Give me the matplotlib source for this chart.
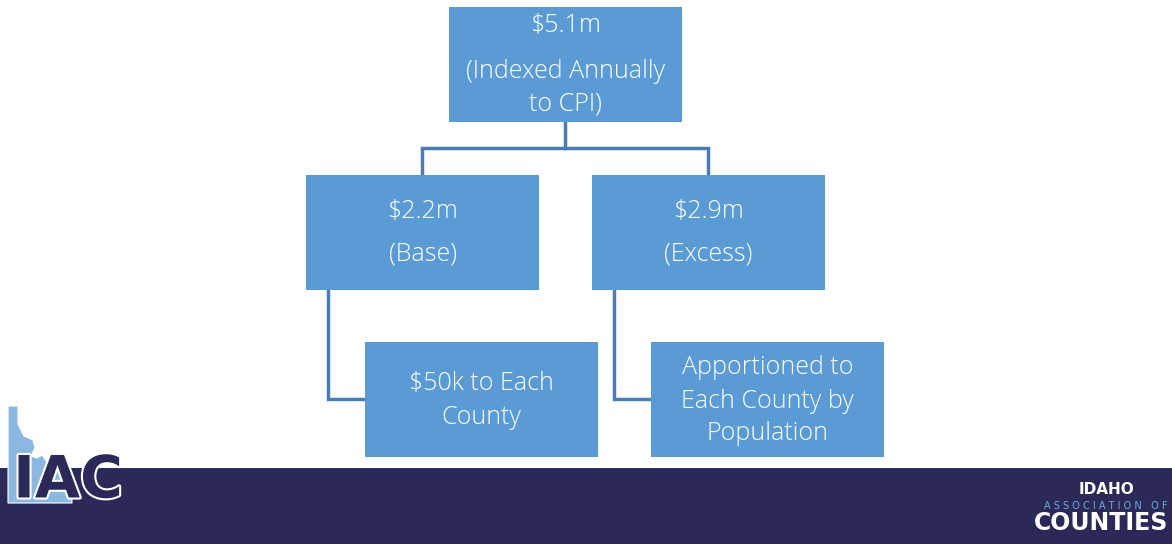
import matplotlib.pyplot as plt
from matplotlib.patches import Rectangle, Polygon
import matplotlib.patheffects as pe

# Box labels (one string per line)
top_label = ["$5.1m", "(Indexed Annually", "to CPI)"]
mid_labels = [["$2.2m", "(Base)"], ["$2.9m", "(Excess)"]]
bottom_labels = [["$50k to Each", "County"], ["Apportioned to", "Each County by", "Population"]]

box_color = "#5b9bd5"
line_color = "#4a7db4"
band_color = "#2a2957"
font = ["Open Sans", "DejaVu Sans"]

fig = plt.figure(figsize=(11.72, 5.44), dpi=100)
ax = fig.add_axes([0, 0, 1, 1])
ax.set_xlim(0, 1172)
ax.set_ylim(544, 0)
ax.axis("off")


def box(x, y, w, h, lines, ys):
    ax.add_patch(Rectangle((x, y), w, h, facecolor=box_color, edgecolor="none", zorder=2))
    for t, ty in zip(lines, ys):
        ax.text(x + w / 2, ty, t, ha="center", va="center", color="white",
                fontsize=18, fontweight="light", family=font, zorder=3)


def line(xs, ys):
    ax.plot(xs, ys, color=line_color, lw=2.5, solid_joinstyle="miter", zorder=1)


# connectors
line([565, 565], [122, 148])
line([422, 422, 708, 708], [176, 148, 148, 176])
line([328, 328, 366], [290, 399, 399])
line([614, 614, 652], [290, 399, 399])

# boxes
box(449, 7, 233, 115, top_label, [25, 72, 104])
box(306, 175, 233, 115, mid_labels[0], [211, 254])
box(592, 175, 233, 115, mid_labels[1], [211, 254])
box(365, 342, 233, 115, bottom_labels[0], [384, 417])
box(651, 342, 233, 115, bottom_labels[1], [367, 401, 434])

# footer band
ax.add_patch(Rectangle((0, 468), 1172, 76, facecolor=band_color, edgecolor="none", zorder=1))

# IAC logo
idaho = [(8, 406), (18, 406), (18, 424), (24, 436), (33, 440), (35, 448), (31, 456),
         (37, 458), (42, 455), (47, 462), (70, 462), (72, 503), (8, 503)]
ax.add_patch(Polygon(idaho, closed=True, facecolor="#8ab8e0", edgecolor="white", lw=0.8, zorder=3))
ax.text(68, 481, "IAC", ha="center", va="center", color=band_color, fontsize=42,
        fontweight="heavy", family="DejaVu Sans", zorder=4,
        path_effects=[pe.withStroke(linewidth=3, foreground="white")])

# Idaho Association of Counties logo
ax.text(1107, 490, "IDAHO", ha="center", va="center", color="white", fontsize=11,
        fontweight="bold", family="DejaVu Sans", zorder=4)
ax.text(1168, 506, "A S S O C I A T I O N   O F", ha="right", va="center", color="#6fa8dc",
        fontsize=7, family="DejaVu Sans", zorder=4)
ax.text(1168, 523, "COUNTIES", ha="right", va="center", color="white", fontsize=17,
        fontweight="bold", family="DejaVu Sans", zorder=4)

fig.savefig("out.png", dpi=100)
